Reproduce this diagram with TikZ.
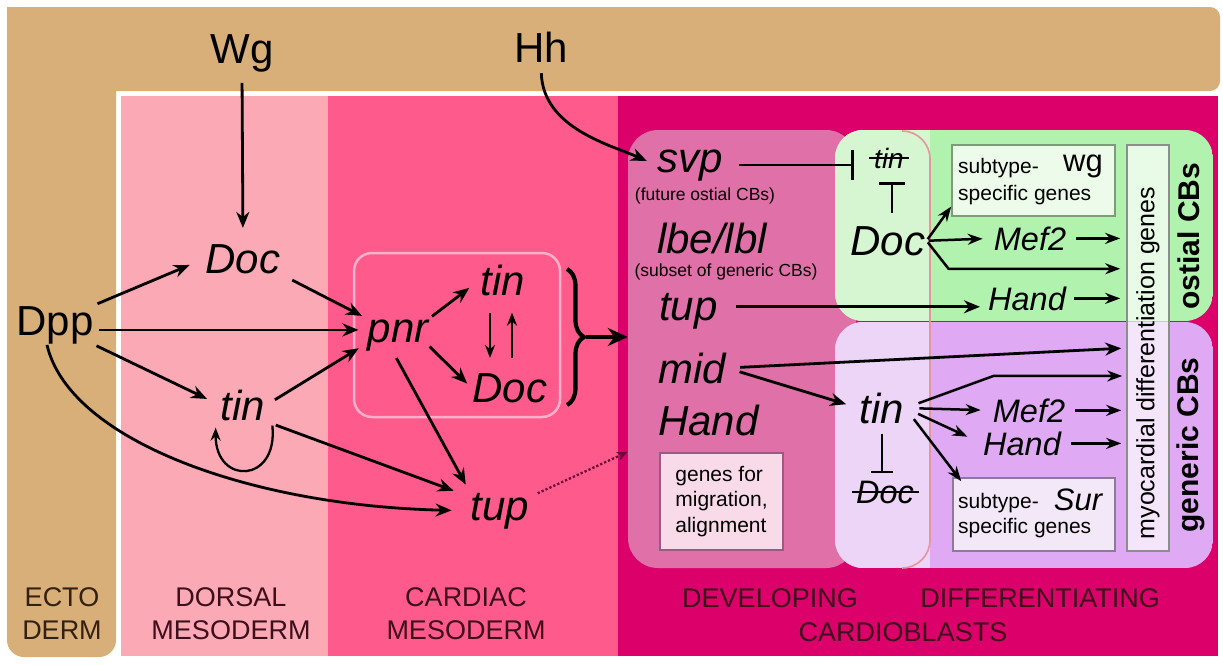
\documentclass[tikz,border=0pt]{standalone}
\usepackage{fontspec}
\setmainfont{Liberation Sans}
\usetikzlibrary{arrows.meta,decorations.pathreplacing}

\definecolor{ectoC}{HTML}{D8AE79}
\definecolor{dorsalC}{HTML}{FAA9B5}
\definecolor{cardiacC}{HTML}{FE5A8B}
\definecolor{cardioC}{HTML}{DC006B}
\definecolor{develC}{HTML}{E070A8}
\definecolor{ostialC}{HTML}{B1F3AE}
\definecolor{ostialL}{HTML}{D6F6D2}
\definecolor{genericC}{HTML}{DFA9F4}
\definecolor{genericL}{HTML}{ECD5F6}
\definecolor{colEdge}{HTML}{E8949E}
\definecolor{pnrEdge}{HTML}{FFB0CA}
\definecolor{genesFill}{HTML}{F8DAE8}
\definecolor{genesEdge}{HTML}{A4577E}
\definecolor{ostBoxFill}{HTML}{EDFBEA}
\definecolor{ostBoxEdge}{HTML}{7C9C7A}
\definecolor{genBoxFill}{HTML}{F3E8F8}
\definecolor{genBoxEdge}{HTML}{8E7A98}
\definecolor{myoEdge}{HTML}{8A8F8A}
\definecolor{tissueTxt}{HTML}{3E0E1B}
\definecolor{ectoTxt}{HTML}{33200F}
\definecolor{dotC}{HTML}{6A0C38}

\tikzset{
  gn/.style={font=\fontsize{42}{46}\selectfont\itshape, inner sep=1pt, anchor=base},
  gnw/.style={gn, anchor=base west},
  gs/.style={font=\fontsize{32.5}{36}\selectfont\itshape, inner sep=1pt, anchor=base},
  sigl/.style={font=\fontsize{42}{46}\selectfont, inner sep=1pt, anchor=base},
  fine/.style={font=\fontsize{21}{25}\selectfont, inner sep=0pt, anchor=base west},
  paren/.style={font=\fontsize{17.5}{20}\selectfont, inner sep=0pt, anchor=base},
  tissue/.style={font=\fontsize{27}{33}\selectfont, text=tissueTxt, inner sep=0pt},
  vlab/.style={font=\fontsize{30}{34}\selectfont\bfseries, rotate=90, inner sep=0pt},
  act/.style={line width=2.8pt, -{Stealth[length=16pt,width=13pt]}},
  act4/.style={line width=2.5pt, -{Stealth[length=15pt,width=11pt]}},
  act3/.style={line width=2.3pt, -{Stealth[length=13pt,width=10pt]}},
  inh/.style={line width=2.8pt, -{Bar[width=30pt]}},
  genebox/.style={draw, line width=1.6pt, inner sep=0pt},
}

\begin{document}
\begin{tikzpicture}[x=1pt,y=-1pt]
\useasboundingbox (0,0) rectangle (1223,664);

% ectoderm frame (top band and left column)
\fill[ectoC, rounded corners=10pt] (7,7) rectangle (1220,91);
\fill[ectoC] (7,7) rectangle (40,40);
\fill[ectoC, rounded corners=17pt] (7,40) rectangle (116,657);

% tissue bands
\fill[dorsalC] (121,96) rectangle (328,656);
\fill[cardiacC] (328,96) rectangle (618,656);
\fill[cardioC] (618,96) rectangle (1218,656);

% developing cardioblasts
\node[fill=develC, rounded corners=30pt, minimum width=228pt, minimum height=438pt, inner sep=0pt] (devbox) at (742,349) {};

% ostial and generic cardioblast fields, with the lighter column
\begin{scope}
  \clip[rounded corners=28pt] (835,130) rectangle (1213,321);
  \fill[ostialC] (835,130) rectangle (1213,321);
  \fill[ostialL] (835,130) rectangle (930,321);
\end{scope}
\begin{scope}
  \clip[rounded corners=28pt] (835,322) rectangle (1213,568);
  \fill[genericC] (835,322) rectangle (1213,568);
  \fill[genericL] (835,322) rectangle (930,568);
\end{scope}
\draw[colEdge, line width=1.6pt, rounded corners=28pt] (902,131) -- (930,131) -- (930,568) -- (902,568);

% cardiac mesoderm frame
\draw[pnrEdge, line width=2.5pt, rounded corners=18pt] (354,253) rectangle (560,417);

% signals and genes, left part
\node[sigl] (wg) at (242,63) {Wg};
\node[sigl] (hh) at (541,62) {Hh};
\node[sigl] (dpp) at (55,335) {Dpp};
\node[gn] (docA) at (243,273) {Doc};
\node[gn] (tinA) at (243,420) {tin};
\node[gn] (pnr) at (398,342) {pnr};
\node[gn] (tinB) at (503,295) {tin};
\node[gn] (docB) at (510,402) {Doc};
\node[gn] (tupA) at (500,520) {tup};

% developing cardioblasts
\node[gnw] (svp) at (656,172) {svp};
\node[paren] (svpnote) at (705,200) {(future ostial CBs)};
\node[gnw] (lbe) at (656,253) {lbe/lbl};
\node[paren] (lbenote) at (726,276) {(subset of generic CBs)};
\node[gnw] (tupB) at (658,320) {tup};
\node[gnw] (mid) at (657,383) {mid};
\node[gnw] (handA) at (657,435) {Hand};
\node[genebox, draw=genesEdge, fill=genesFill, minimum width=123pt, minimum height=97pt,
      font=\fontsize{21}{25.5}\selectfont, align=left] (genes) at (721.5,501.5) {genes for\\migration,\\alignment};

% differentiating cardioblasts
\node[font=\fontsize{28}{30}\selectfont\itshape, inner sep=1pt, anchor=base] (tinX) at (889,168) {tin};
\node[gn] (docC) at (888,255) {Doc};
\node[gs] (mef2A) at (1030,250) {Mef2};
\node[gs] (handB) at (1027,310) {Hand};
\node[gn] (tinC) at (882,423) {tin};
\node[gs] (docD) at (885,503) {Doc};
\node[gs] (mef2B) at (1029,422) {Mef2};
\node[gs] (handC) at (1022,455) {Hand};

\node[genebox, draw=ostBoxEdge, fill=ostBoxFill, minimum width=163pt, minimum height=71pt] (wgbox) at (1033.5,180.5) {};
\node[fine] (wgsub) at (958,173) {subtype-};
\node[fine] (wgspec) at (958,200) {specific genes};
\node[font=\fontsize{31}{34}\selectfont, inner sep=0pt, anchor=base] (wgname) at (1083,171) {wg};

\node[genebox, draw=genBoxEdge, fill=genBoxFill, minimum width=162pt, minimum height=73pt] (surbox) at (1034,514.5) {};
\node[fine] (sursub) at (958,508) {subtype-};
\node[fine] (surspec) at (958,533) {specific genes};
\node[font=\fontsize{31}{34}\selectfont\itshape, inner sep=0pt, anchor=base] (surname) at (1078,510) {Sur};

\node[genebox, draw=myoEdge, fill=white, fill opacity=0.7, minimum width=42pt, minimum height=406pt] (myo) at (1148,348) {};
\node[font=\fontsize{25}{27}\selectfont, rotate=90, inner sep=0pt] (myotxt) at (1148,363) {myocardial differentiation genes};
\node[vlab] (ostlab) at (1189,236) {ostial CBs};
\node[vlab] (genlab) at (1191,445) {generic CBs};

% tissue labels
\node[tissue, text=ectoTxt, align=center, anchor=north] (ectolab) at (62,587) {ECTO\\DERM};
\node[tissue, align=center, anchor=north] (dorslab) at (231,587) {DORSAL\\MESODERM};
\node[tissue, align=center, anchor=north] (cardlab) at (466,587) {CARDIAC\\MESODERM};
\node[tissue, anchor=base] (devlab) at (770,607) {DEVELOPING};
\node[tissue, anchor=base] (difflab) at (1040,607) {DIFFERENTIATING};
\node[tissue, anchor=base] (cblab) at (903,641) {CARDIOBLASTS};

% regulatory links, dorsal and cardiac mesoderm
\draw[act, shorten <=10pt, shorten >=15pt] (wg.south) -- (docA.north);
\draw[act, shorten <=3pt, shorten >=16pt] (dpp.north east) -- (docA.west);
\draw[act, shorten <=12pt, shorten >=5pt] (docA.south east) -- (pnr.north west);
\coordinate (dppR) at ([yshift=-5pt]dpp.east);
\draw[act, shorten <=4pt, shorten >=8pt] (dppR) -- (dppR -| pnr.west);
\draw[act, shorten <=2pt, shorten >=14pt] (dpp.south east) -- (tinA.west);
\draw[act, shorten <=10pt, shorten >=9pt] (tinA.east) -- (pnr.195);
\draw[act3] ([xshift=6pt,yshift=-4pt]tinA.south east) .. controls +(6,58) and +(0,58) .. ([xshift=-4pt,yshift=-6pt]tinA.south west);
\draw[act, shorten <=10pt, shorten >=17pt] (tinA.south east) -- (tupA.155);
\draw[act, shorten >=18pt] ([xshift=-8pt]dpp.south) .. controls +(22,95) and +(-220,-5) .. (tupA.west);
\draw[act, shorten <=3pt, shorten >=13pt] (pnr.north east) -- (tinB.west);
\draw[act, shorten >=6pt] (pnr.-20) -- (docB.west);
\draw[act, shorten <=7pt, shorten >=8pt] ([xshift=-5pt]pnr.south) -- (tupA.north west);
\draw[act3, shorten <=16pt, shorten >=14pt] ([xshift=-13pt]tinB.south) -- ([xshift=-20pt]docB.north);
\draw[act3, shorten <=14pt, shorten >=16pt] ([xshift=2pt]docB.north) -- ([xshift=9pt]tinB.south);

% cardiac mesoderm output
\draw[line width=4.2pt, decorate, decoration={brace, amplitude=17pt, aspect=0.5}] (567,269) -- (567,405);
\coordinate (brace) at (586,337);
\draw[line width=4.8pt, -{Stealth[length=20pt,width=18pt]}] (brace) -- (brace -| devbox.west);
\draw[dotted, line width=2.3pt, draw=dotC, -{Stealth[length=11pt,width=9pt]}, shorten <=8pt] (tupA.25) -- (devbox.222.9);
\draw[act, shorten <=10pt, shorten >=10pt] (hh.south) .. controls +(2,65) and +(-45,-20) .. (svp.west);

% developing to differentiating cardioblasts
\draw[inh, shorten <=15pt, shorten >=19pt] (svp.east) -- (svp.east -| tinX.west);
\draw[line width=2.6pt, -{Bar[width=26pt]}, shorten <=12pt, shorten >=13pt] ([xshift=4pt]docC.north) -- ([xshift=3pt]tinX.south);
\draw[line width=1.8pt] ([xshift=-4pt]tinX.west) -- ([xshift=4pt]tinX.east);

\draw[act4, shorten <=2pt] (docC.east) -- ([yshift=-26pt]wgbox.west);
\draw[act4, shorten <=2pt, shorten >=10pt] (docC.east) -- (mef2A.west);
\draw[act4, shorten <=2pt, shorten >=6pt] (docC.east) -- ++(22,28) coordinate (docturn) -- (docturn -| myo.west);
\draw[act4, shorten <=9pt, shorten >=6pt] (mef2A.east) -- (mef2A.east -| myo.west);
\draw[act4, shorten <=7pt, shorten >=6pt] (handB.east) -- (handB.east -| myo.west);
\coordinate (tupR) at ([yshift=4pt]tupB.east);
\draw[act, shorten <=17pt, shorten >=7pt] (tupR) -- (tupR -| handB.west);

\draw[act, shorten <=13pt, shorten >=5pt] (mid.east) -- (myo.west);
\draw[act, shorten <=13pt, shorten >=13pt] (mid.east) -- (tinC.west);

\draw[act4, shorten <=14pt, shorten >=4pt] (tinC.east) -- ++(88,-32) coordinate (tinturn) -- (tinturn -| myo.west);
\draw[act4, shorten <=14pt, shorten >=11pt] (tinC.east) -- (mef2B.west);
\draw[act4, shorten <=14pt, shorten >=16pt] (tinC.east) -- (handC.west);
\draw[act4, shorten <=14pt] (tinC.east) -- ([xshift=9pt,yshift=-4pt]surbox.north west);
\draw[act4, shorten <=9pt, shorten >=5pt] (mef2B.east) -- (mef2B.east -| myo.west);
\draw[act4, shorten <=9pt, shorten >=5pt] (handC.east) -- (handC.east -| myo.west);
\draw[line width=2.6pt, -{Bar[width=22pt]}, shorten <=9pt, shorten >=6pt] (tinC.south) -- (tinC.south |- docD.north);
\draw[line width=1.8pt] ([xshift=-3pt]docD.west) -- ([xshift=4pt]docD.east);
\end{tikzpicture}
\end{document}
